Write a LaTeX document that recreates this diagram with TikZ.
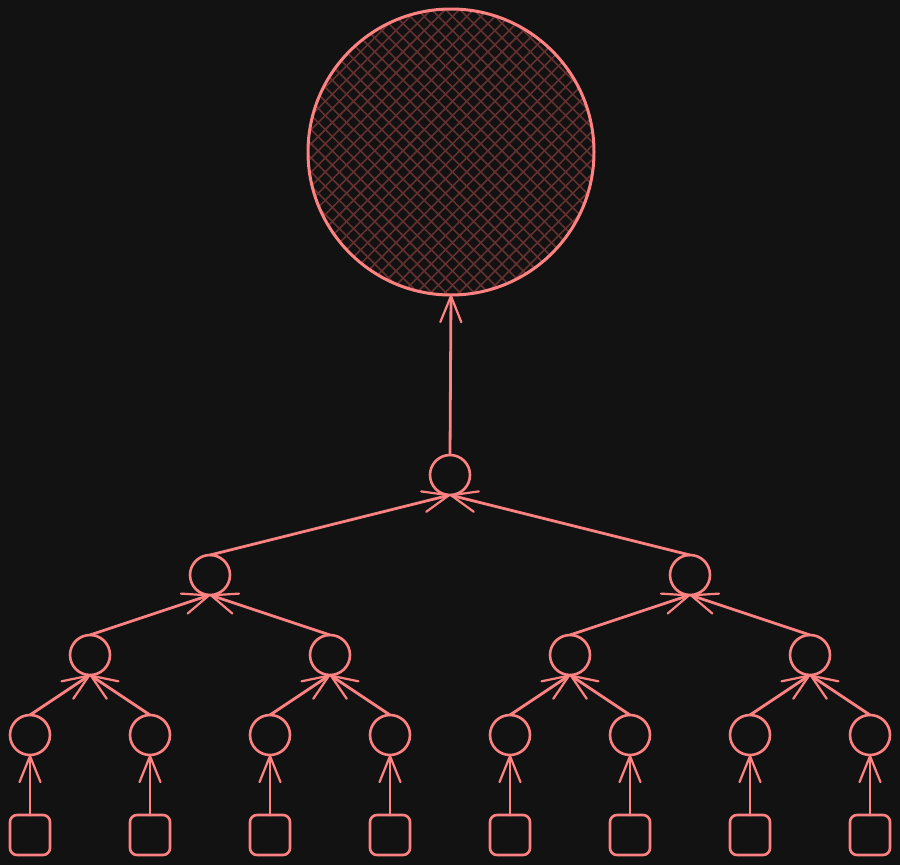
\documentclass[tikz,border=0pt]{standalone}
\usetikzlibrary{arrows.meta,patterns.meta}
\definecolor{bg}{HTML}{121212}
\definecolor{stroke}{HTML}{FF8282}
\definecolor{hatch}{HTML}{663030}
\begin{document}
\begin{tikzpicture}[x=1pt,y=-1pt,
  node/.style={circle,draw=stroke,line width=2.6pt,minimum size=40pt,inner sep=0pt,outer sep=0pt},
  leaf/.style={rectangle,rounded corners=7pt,draw=stroke,line width=2.6pt,minimum size=40pt,inner sep=0pt,outer sep=0pt},
  arr/.style={draw=stroke,line width=2.8pt,line cap=round,-{Straight Barb[length=26pt,width=21pt,line width=2.2pt,round]}}]
\fill[bg] (0,0) rectangle (900,865);
\useasboundingbox (0,0) rectangle (900,865);
% big circle
\fill[pattern={Lines[angle=45,distance=10pt,line width=1.6pt]},pattern color=hatch] (451,152) circle[radius=143pt];
\fill[pattern={Lines[angle=-45,distance=10pt,line width=1.6pt]},pattern color=hatch] (451,152) circle[radius=143pt];
\node[circle,draw=stroke,line width=3pt,minimum size=286pt,inner sep=0pt,outer sep=0pt] (big) at (451,152) {};
% tree
\node[node] (r) at (450,475) {};
\node[node] (a) at (210,575) {};
\node[node] (b) at (690,575) {};
\node[node] (a1) at (90,655) {};
\node[node] (a2) at (330,655) {};
\node[node] (b1) at (570,655) {};
\node[node] (b2) at (810,655) {};
\foreach \i/\x/\p in {1/30/a1,2/150/a1,3/270/a2,4/390/a2,5/510/b1,6/630/b1,7/750/b2,8/870/b2}{
  \node[node] (l\i) at (\x,735) {};
  \node[leaf] (s\i) at (\x,835) {};
  \draw[arr] (s\i.north) -- (l\i.south);
  \draw[arr] (l\i.north) -- (\p.south);
}
\draw[arr] (a1.north) -- (a.south);
\draw[arr] (a2.north) -- (a.south);
\draw[arr] (b1.north) -- (b.south);
\draw[arr] (b2.north) -- (b.south);
\draw[arr] (a.north) -- (r.south);
\draw[arr] (b.north) -- (r.south);
\draw[arr] (r.north) -- (big.south);
\end{tikzpicture}
\end{document}
